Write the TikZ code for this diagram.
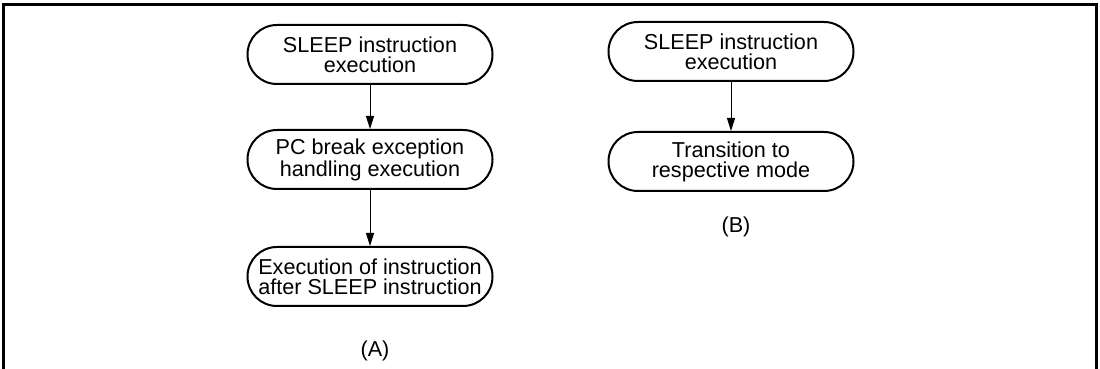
\documentclass[tikz,border=0pt]{standalone}
\usepackage{fontspec}
\setmainfont{Liberation Sans}
\usetikzlibrary{arrows.meta,positioning}

\begin{document}
\begin{tikzpicture}[x=0.5pt, y=-0.5pt,
  flow/.style={rectangle, rounded corners=14.7pt, draw, line width=1pt,
               minimum width=122.5pt, minimum height=29.5pt, inner sep=0pt,
               align=center, font=\fontsize{10.8}{10}\selectfont},
  caption/.style={inner sep=0pt, font=\fontsize{10.8}{10}\selectfont},
  arr/.style={-{Triangle[length=6.5pt,width=4pt]}, line width=0.5pt}
]
  \useasboundingbox (0,0) rectangle (1100,369);
  \draw[line width=1.5pt] (3.5,369) -- (3.5,5) -- (1096,5) -- (1096,369);

  % flow (A)
  \node[flow] (a1) at (370,54.5) {SLEEP instruction\\execution};
  \node[flow, below=22pt of a1] (a2) {PC break exception\\handling execution};
  \node[flow, below=28pt of a2] (a3) {Execution of instruction\\after SLEEP instruction};
  \node[caption, below=16.5pt of a3, xshift=2.5pt] (capa) {(A)};

  \draw[arr] (a1) -- (a2);
  \draw[arr] (a2) -- (a3);

  % flow (B)
  \node[flow] (b1) at (731,51.5) {SLEEP instruction\\execution};
  \node[flow, below=24.5pt of b1] (b2) {Transition to\\respective mode};
  \node[caption, below=12pt of b2, xshift=2.5pt] (capb) {(B)};

  \draw[arr] (b1) -- (b2);
\end{tikzpicture}
\end{document}
